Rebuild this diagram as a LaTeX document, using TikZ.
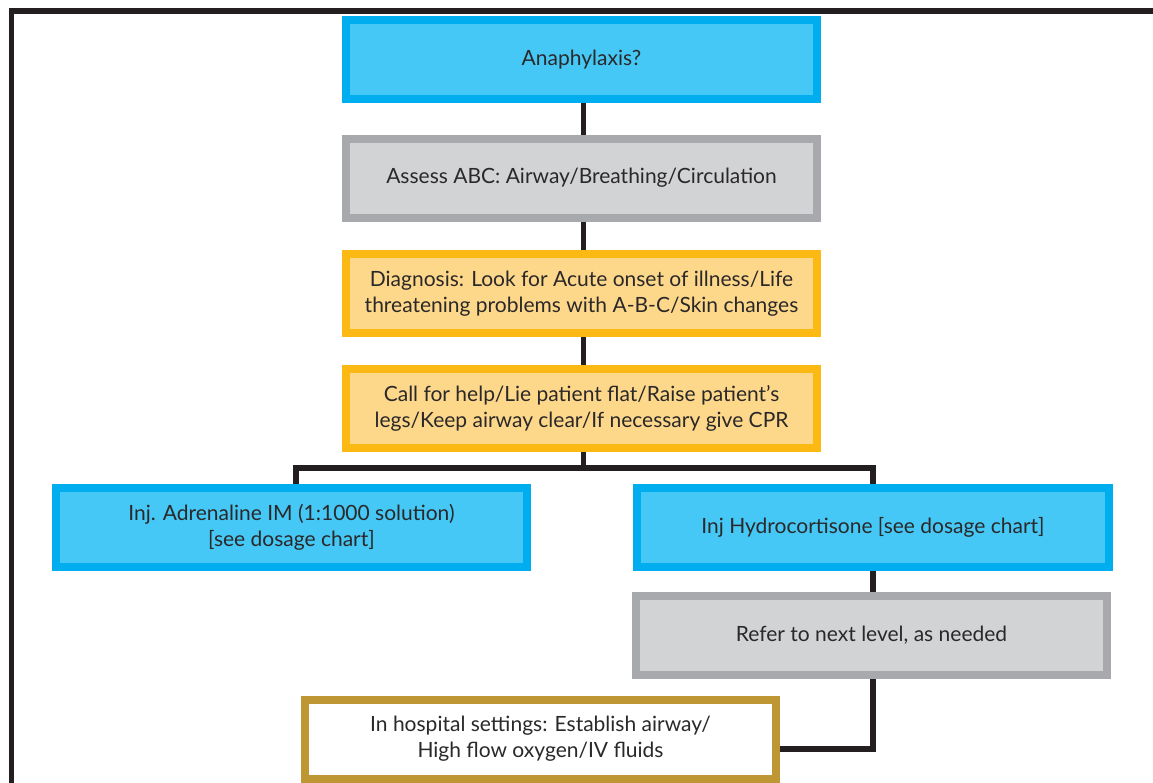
\documentclass[tikz,border=0pt]{standalone}
\usepackage{fontspec}
\setmainfont{Lato}
\usetikzlibrary{backgrounds}
\definecolor{lineK}{HTML}{231F20}
\definecolor{textK}{HTML}{2A2829}
\definecolor{blueB}{HTML}{00AEEF}
\definecolor{blueF}{HTML}{45C8F5}
\definecolor{grayB}{HTML}{A7A9AC}
\definecolor{grayF}{HTML}{D1D3D4}
\definecolor{orngB}{HTML}{FDB913}
\definecolor{orngF}{HTML}{FED88A}
\definecolor{goldB}{HTML}{BF9634}
\begin{document}
\begin{tikzpicture}[x=1pt,y=-1pt,
  box/.style={rectangle, line width=8pt, minimum width=471pt, minimum height=79pt,
    inner sep=0pt, align=center, text=textK,
    font=\fontsize{21}{26}\selectfont},
  bluebox/.style={box, draw=blueB, fill=blueF},
  graybox/.style={box, draw=grayB, fill=grayF},
  orngbox/.style={box, draw=orngB, fill=orngF},
  goldbox/.style={box, draw=goldB, fill=white},
  link/.style={draw=lineK, line width=5.5pt, line join=miter}]
\useasboundingbox (0,0) rectangle (1153,782);
\clip (0,0) rectangle (1153,782);

% outer frame (only its top and left sides fall inside the page)
\draw[lineK, line width=5.5pt] (11.5,800) -- (11.5,11) -- (1170,11);

% flow boxes
\node[bluebox] (ana) at (581.5,59.5) {Anaphylaxis?};
\node[graybox] (abc) at (581.5,178) {Assess ABC: Airway/Breathing/Circulation};
\node[orngbox] (diag) at (581.5,293.5) {Diagnosis: Look for Acute onset of illness/Life\\threatening problems with A-B-C/Skin changes};
\node[orngbox] (call) at (581.5,408.5) {Call for help/Lie patient flat/Raise patient’s\\legs/Keep airway clear/If necessary give CPR};
\node[bluebox] (adr) at (291.5,527.5) {Inj. Adrenaline IM (1:1000 solution)\\{}[see dosage chart]};
\node[bluebox, minimum width=472pt] (hyd) at (873,527.5) {Inj Hydrocortisone [see dosage chart]};
\node[graybox] (ref) at (871.5,635) {Refer to next level, as needed};
\node[goldbox] (hosp) at (540.5,739) {In hospital settings: Establish airway/\\High flow oxygen/IV fluids};

% connector routing points
\coordinate (spine) at (583.5,468);
\coordinate (lb) at (296,468);
\coordinate (rb) at (873,468);
\coordinate (elbow) at (873,749);

\begin{scope}[on background layer]
  \draw[link] (ana.south -| spine) -- (abc.north -| spine);
  \draw[link] (abc.south -| spine) -- (diag.north -| spine);
  \draw[link] (diag.south -| spine) -- (call.north -| spine);
  \draw[link] (call.south -| spine) -- (spine);
  \draw[link] (adr.north -| lb) -- (lb) -- (rb) -- (hyd.north -| rb);
  \draw[link] (hyd.south -| rb) -- (ref.north -| rb);
  \draw[link] (ref.south -| elbow) -- (elbow) -- (hosp.east |- elbow);
\end{scope}
\end{tikzpicture}
\end{document}
